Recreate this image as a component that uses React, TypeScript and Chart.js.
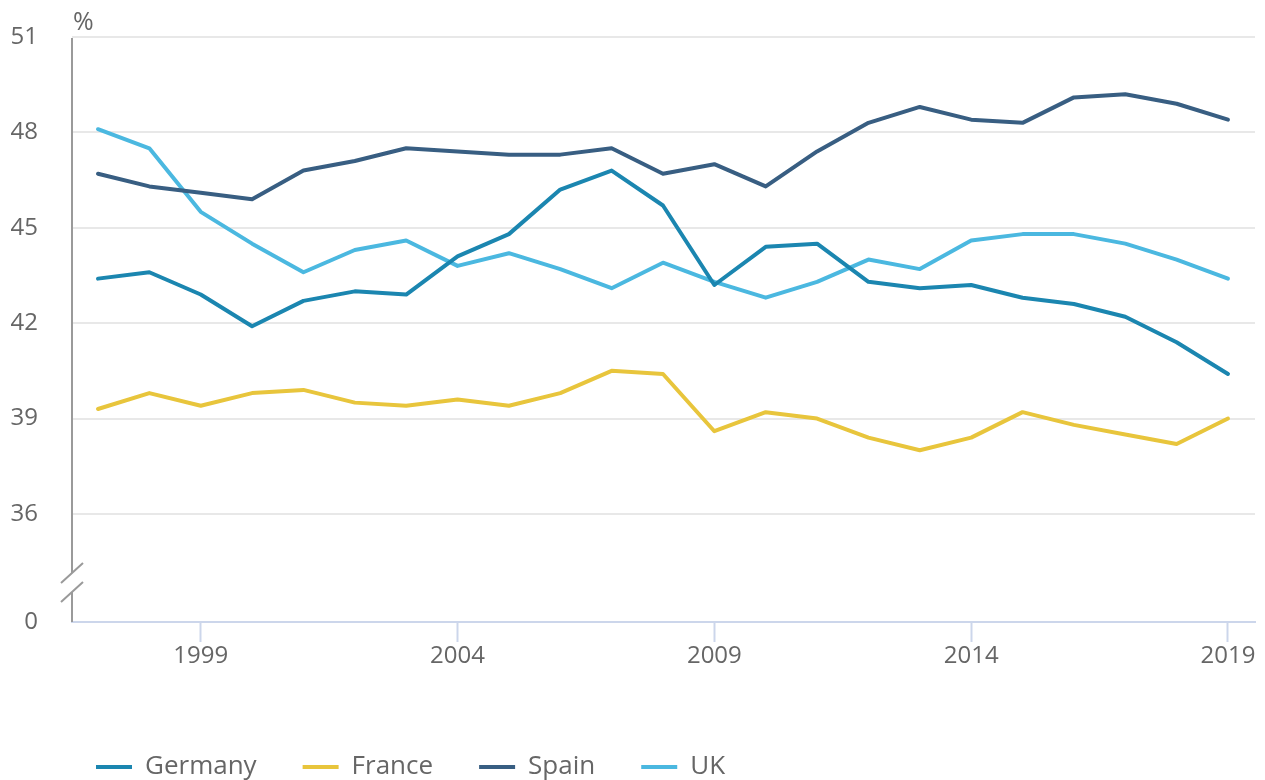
import React, { useEffect, useRef } from 'react';
import { Chart, registerables } from 'chart.js';

Chart.register(...registerables);

const YEARS = [1997, 1998, 1999, 2000, 2001, 2002, 2003, 2004, 2005, 2006, 2007, 2008, 2009, 2010, 2011, 2012, 2013, 2014, 2015, 2016, 2017, 2018, 2019];
const GERMANY = [43.4, 43.6, 42.9, 41.9, 42.7, 43.0, 42.9, 44.1, 44.8, 46.2, 46.8, 45.7, 43.2, 44.4, 44.5, 43.3, 43.1, 43.2, 42.8, 42.6, 42.2, 41.4, 40.4];
const FRANCE = [39.3, 39.8, 39.4, 39.8, 39.9, 39.5, 39.4, 39.6, 39.4, 39.8, 40.5, 40.4, 38.6, 39.2, 39.0, 38.4, 38.0, 38.4, 39.2, 38.8, 38.5, 38.2, 39.0];
const SPAIN = [46.7, 46.3, 46.1, 45.9, 46.8, 47.1, 47.5, 47.4, 47.3, 47.3, 47.5, 46.7, 47.0, 46.3, 47.4, 48.3, 48.8, 48.4, 48.3, 49.1, 49.2, 48.9, 48.4];
const UK = [48.1, 47.5, 45.5, 44.5, 43.6, 44.3, 44.6, 43.8, 44.2, 43.7, 43.1, 43.9, 43.3, 42.8, 43.3, 44.0, 43.7, 44.6, 44.8, 44.8, 44.5, 44.0, 43.4];

const SERIES_NAMES = ['Germany', 'France', 'Spain', 'UK'];
const SERIES_VALUES = [GERMANY, FRANCE, SPAIN, UK];
const SERIES_COLORS = ['#1b86b0', '#e8c53c', '#385e82', '#4bb8e0'];

const X_TICKS = [1999, 2004, 2009, 2014, 2019];
const X_MIN = 1996.494;
const X_MAX = 2019.526;
const Y_TICKS = [36, 39, 42, 45, 48, 51];
const Y_BREAK_VALUE = 32.6; // bottom of the broken axis
const Y_BREAK_LABEL = '0';
const UNIT_LABEL = '%';

const TEXT_COLOR = '#666666';
const FONT_FAMILY = '"Open Sans", sans-serif';

const axisBreakPlugin = {
  id: 'axisBreak',
  afterLayout(chart: any) {
    // start the legend row under the plot, not at the canvas edge
    if (chart.legend) {
      chart.legend.left = 50;
    }
  },
  afterDraw(chart: any) {
    const { ctx, chartArea } = chart;
    const x = chartArea.left;
    const top = chartArea.top;
    const bottom = chartArea.bottom;
    const b1 = bottom - 49;
    const b2 = bottom - 30;
    ctx.save();
    ctx.strokeStyle = '#9a9a9a';
    ctx.lineWidth = 2;
    ctx.beginPath();
    ctx.moveTo(x, top + 1);
    ctx.lineTo(x, b1);
    ctx.moveTo(x, b2);
    ctx.lineTo(x, bottom);
    ctx.stroke();
    ctx.beginPath();
    ctx.moveTo(x - 11, b1 + 10);
    ctx.lineTo(x + 11, b1 - 10);
    ctx.moveTo(x - 11, b2 + 10);
    ctx.lineTo(x + 11, b2 - 10);
    ctx.stroke();
    ctx.fillStyle = TEXT_COLOR;
    ctx.font = '25px ' + FONT_FAMILY;
    ctx.textAlign = 'left';
    ctx.textBaseline = 'alphabetic';
    ctx.fillText(UNIT_LABEL, x + 1, top - 7);
    ctx.restore();
  },
};

export default function App() {
  const canvasRef = useRef<HTMLCanvasElement | null>(null);

  useEffect(() => {
    const canvas = canvasRef.current;
    if (!canvas) return;
    const datasets = SERIES_NAMES.map((name, i) => ({
      label: name,
      data: YEARS.map((yr, j) => ({ x: yr, y: SERIES_VALUES[i][j] })),
      borderColor: SERIES_COLORS[i],
      backgroundColor: SERIES_COLORS[i],
      borderWidth: 4,
      pointRadius: 0,
      pointHoverRadius: 0,
      tension: 0,
      borderJoinStyle: 'round' as const,
      borderCapStyle: 'round' as const,
      fill: false,
    }));

    const chart = new Chart(canvas, {
      type: 'line',
      data: { datasets },
      plugins: [axisBreakPlugin],
      options: {
        animation: false,
        responsive: false,
        maintainAspectRatio: false,
        devicePixelRatio: 1,
        layout: { padding: { left: 0, right: 10, top: 37, bottom: -10 } },
        plugins: {
          tooltip: { enabled: false },
          title: { display: false },
          legend: {
            display: true,
            position: 'bottom',
            align: 'start',
            labels: {
              boxWidth: 36,
              boxHeight: 4,
              padding: 46,
              color: TEXT_COLOR,
              font: { family: FONT_FAMILY, size: 26 },
              generateLabels: (c: any) =>
                c.data.datasets.map((ds: any, i: number) => ({
                  text: ds.label,
                  fillStyle: ds.borderColor,
                  strokeStyle: ds.borderColor,
                  lineWidth: 0,
                  hidden: false,
                  datasetIndex: i,
                  fontColor: TEXT_COLOR,
                })),
            },
          },
        },
        scales: {
          x: {
            type: 'linear',
            min: X_MIN,
            max: X_MAX,
            afterBuildTicks: (scale: any) => {
              scale.ticks = X_TICKS.map((v) => ({ value: v }));
            },
            afterFit: (scale: any) => {
              scale.height = 86;
              scale.paddingLeft = 0;
              scale.paddingRight = 0;
            },
            ticks: {
              color: TEXT_COLOR,
              font: { family: FONT_FAMILY, size: 24 },
              padding: 0,
              maxRotation: 0,
              autoSkip: false,
              callback: (v: any) => String(v),
            },
            grid: {
              drawOnChartArea: false,
              drawTicks: true,
              tickLength: 20,
              tickColor: '#ccd6eb',
              tickWidth: 2,
              color: '#ccd6eb',
            },
            border: { display: true, color: '#ccd6eb', width: 2 },
          },
          y: {
            type: 'linear',
            min: Y_BREAK_VALUE,
            max: 51,
            afterBuildTicks: (scale: any) => {
              scale.ticks = [Y_BREAK_VALUE, ...Y_TICKS].map((v) => ({ value: v }));
            },
            afterFit: (scale: any) => {
              scale.width = 72;
              scale.paddingTop = 0;
              scale.paddingBottom = 0;
            },
            ticks: {
              color: TEXT_COLOR,
              font: { family: FONT_FAMILY, size: 24 },
              padding: 34,
              autoSkip: false,
              callback: (v: any) => (v === Y_BREAK_VALUE ? Y_BREAK_LABEL : String(v)),
            },
            grid: {
              drawTicks: false,
              lineWidth: 2,
              color: (ctx: any) => (ctx.tick && ctx.tick.value === Y_BREAK_VALUE ? 'rgba(0,0,0,0)' : '#e8e8e8'),
            },
            border: { display: false },
          },
        },
      },
    });
    return () => chart.destroy();
  }, []);

  return (
    <div style={{ position: 'absolute', left: 0, top: 0, width: 1265, height: 780 }}>
      <canvas ref={canvasRef} width={1265} height={780} style={{ display: 'block' }} />
    </div>
  );
}
